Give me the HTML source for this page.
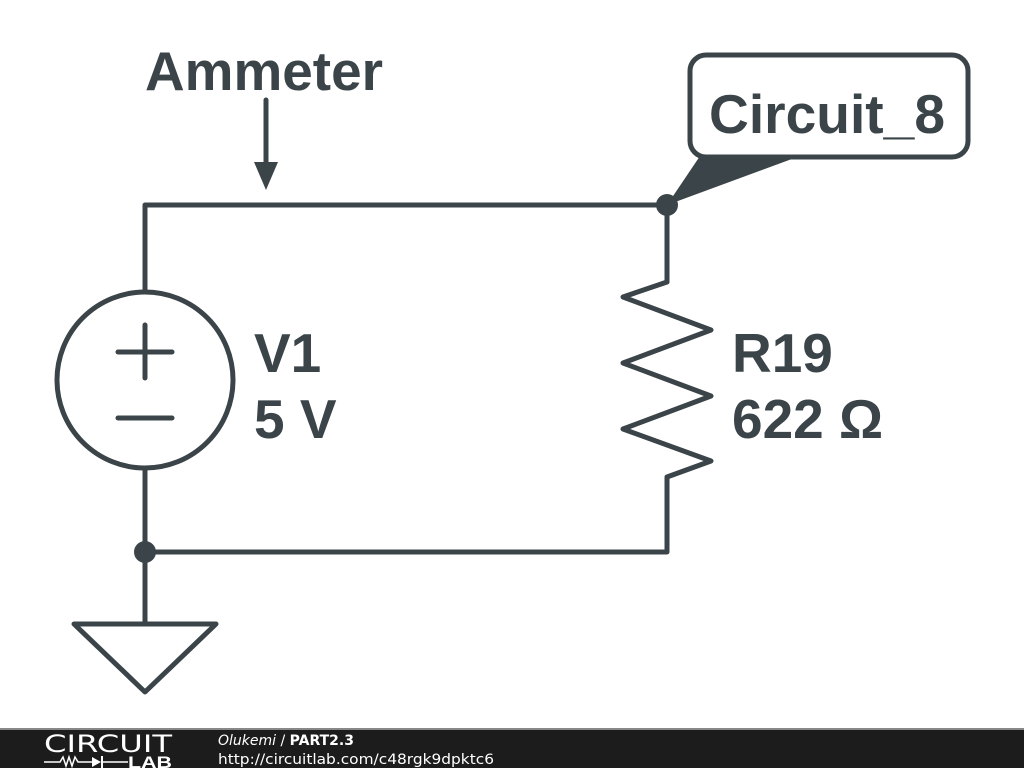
<!DOCTYPE html>
<html><head><style>
body{margin:0;width:1024px;height:768px;background:#fff;overflow:hidden}
</style></head><body>
<svg width="1024" height="768" xmlns="http://www.w3.org/2000/svg" style="position:absolute;left:0;top:0">
<g stroke="#3b4449" stroke-width="5" fill="none" stroke-linecap="round" stroke-linejoin="round">
<polyline points="145,292 145,205 667,205 667,282"/>
<polyline points="667,282 623,297 711,330 623,363 711,396 623,429 711,461 667,477 667,552 145,552"/>
<line x1="145" y1="468" x2="145" y2="622"/>
<circle cx="145" cy="380" r="88"/>
<line x1="118" y1="352" x2="172" y2="352"/>
<line x1="145" y1="325" x2="145" y2="378"/>
<line x1="118" y1="418" x2="172" y2="418"/>
<polygon points="74,624 216,624 145,692"/>
<line x1="266" y1="100" x2="266" y2="170"/>
<rect x="690" y="55" width="278" height="102" rx="16"/>
</g>
<polygon points="254,162 278,162 266,190" fill="#3b4449"/>
<polygon points="700,156 800,156 667,205" fill="#3b4449"/>
<circle cx="667" cy="205" r="11" fill="#3b4449"/>
<circle cx="145" cy="552" r="11" fill="#3b4449"/>
<g font-family="Liberation Sans, sans-serif" font-weight="bold" fill="#3b4449">
<text x="145" y="90" font-size="55" textLength="238" lengthAdjust="spacingAndGlyphs">Ammeter</text>
<text x="709" y="133" font-size="55" textLength="236" lengthAdjust="spacingAndGlyphs">Circuit_8</text>
<text x="254" y="372" font-size="55">V1</text>
<text x="254" y="438" font-size="55">5 V</text>
<text x="732" y="372" font-size="55">R19</text>
<text x="732" y="438" font-size="55">622 Ω</text>
</g>
<rect x="0" y="729" width="1024" height="39" fill="#1c1c1c"/>
<rect x="0" y="728" width="1024" height="2" fill="#888"/>
<text x="44" y="752" font-family="DejaVu Sans, sans-serif" font-size="24" fill="#fff" textLength="128" lengthAdjust="spacingAndGlyphs">CIRCUIT</text>
<polyline points="44,762 60,762 63,757 66,766 69,757 72,766 75,757 78,762 92,762" stroke="#fff" stroke-width="1.5" fill="none"/>
<polygon points="92,757 92,767 101,762" fill="#fff"/>
<line x1="102" y1="756" x2="102" y2="768" stroke="#fff" stroke-width="2"/>
<line x1="102" y1="762" x2="128" y2="762" stroke="#fff" stroke-width="1.5"/>
<text x="128" y="768" font-family="Liberation Sans, sans-serif" font-weight="bold" font-size="17" fill="#fff" textLength="44" lengthAdjust="spacingAndGlyphs">LAB</text>
<text x="218" y="745" font-family="DejaVu Sans, sans-serif" font-size="14" fill="#fff"><tspan font-style="italic">Olukemi</tspan> / <tspan font-weight="bold">PART2.3</tspan></text>
<text x="218" y="764" font-family="DejaVu Sans, sans-serif" font-size="14" fill="#fff" textLength="276" lengthAdjust="spacingAndGlyphs">http://circuitlab.com/c48rgk9dpktc6</text>
</svg>
</body></html>
